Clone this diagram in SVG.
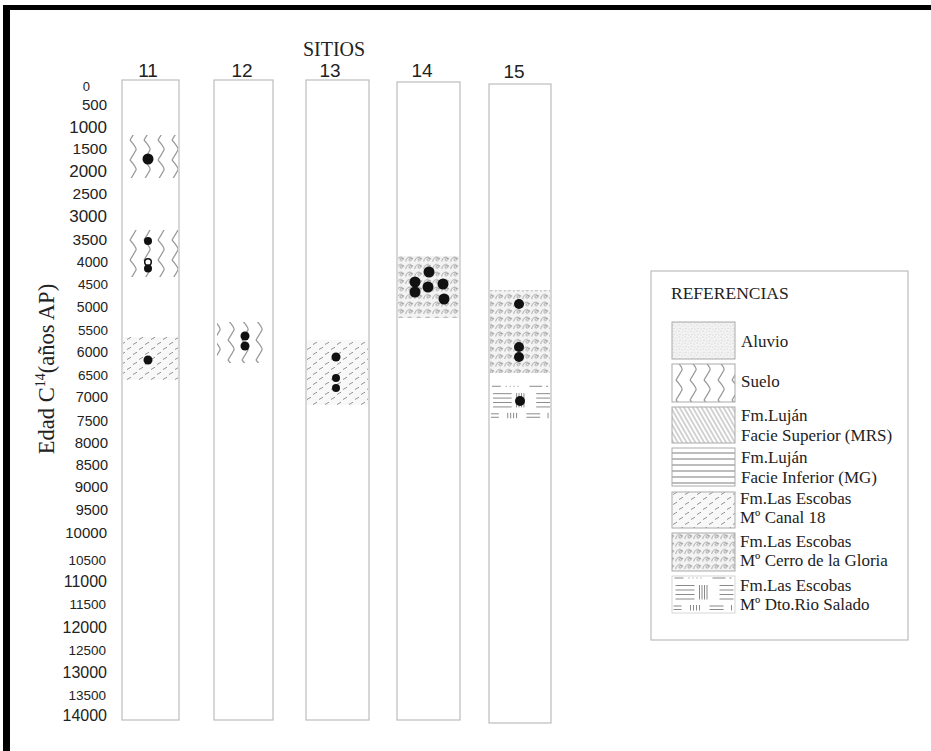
<svg xmlns="http://www.w3.org/2000/svg" width="931" height="751" viewBox="0 0 931 751">
<style>
.col{fill:#fff;stroke:#bdbdbd;stroke-width:1.2}
.ax{font-family:"Liberation Sans",Arial,sans-serif;fill:#222;text-anchor:end}
.hd{font-family:"Liberation Sans",Arial,sans-serif;font-size:19px;fill:#222;text-anchor:middle}
.serif{font-family:"Liberation Serif","Times New Roman",serif;fill:#222}
.lg{font-family:"Liberation Serif","Times New Roman",serif;font-size:17px;fill:#222}
.sw{stroke:#aaa;stroke-width:1}
.dot{fill:#111}
</style>
<defs>
<pattern id="pAluvio" patternUnits="userSpaceOnUse" width="6" height="6">
<rect width="6" height="6" fill="#f3f3f3"/>
<circle cx="1" cy="1" r="0.45" fill="#999"/><circle cx="4" cy="2" r="0.45" fill="#aaa"/><circle cx="2" cy="4.2" r="0.45" fill="#999"/><circle cx="5" cy="5" r="0.45" fill="#aaa"/>
</pattern>
<pattern id="pSuelo" patternUnits="userSpaceOnUse" width="14" height="20">
<path d="M4,0 Q11,8 10,10 Q9,12 4,20" fill="none" stroke="#999" stroke-width="1.3" stroke-linejoin="round"/>
</pattern>
<pattern id="pMRS" patternUnits="userSpaceOnUse" width="3.8" height="10" patternTransform="rotate(-30)">
<line x1="1" y1="0" x2="1" y2="10" stroke="#999" stroke-width="0.9"/>
</pattern>
<pattern id="pMG" patternUnits="userSpaceOnUse" width="10" height="6">
<line x1="0" y1="3" x2="10" y2="3" stroke="#999" stroke-width="1.3"/>
</pattern>
<pattern id="pCanal" patternUnits="userSpaceOnUse" width="12" height="10">
<rect width="12" height="10" fill="#f8f8f8"/>
<path d="M1,4.5 L5,2.2 M7,9.5 L11,7.2" stroke="#888" stroke-width="0.9"/>
</pattern>
<pattern id="pCerro" patternUnits="userSpaceOnUse" width="9" height="7.5">
<rect width="9" height="7.5" fill="#f3f3f3"/>
<path d="M0.8,6.5 C1,2.5 5,1 6.6,2.8 C8,4.6 5.6,6.5 4.2,5.3 C3,4.2 5,2.6 8.2,3.6" fill="none" stroke="#8a8a8a" stroke-width="0.75"/>
</pattern>
<symbol id="rioSalado" viewBox="0 0 62 40" overflow="visible">
<g stroke="#8a8a8a" stroke-width="1" fill="none">
<path d="M2,3 H11 M16,3 H17 M20,3 H21 M24,3 H25 M28,3 H29 M40,3 H53 M57,3 H59"/>
<path d="M3,10.5 H22 M3,15 H22 M3,19.5 H22 M3,24 H22"/>
<path d="M27,10 V24.5 M29.5,10 V24.5 M32,10 V24.5 M34.5,10 V24.5"/>
<path d="M47,10.5 H61 M47,15 H61 M47,19.5 H61 M47,24 H61"/>
<path d="M1,31 H9 M1,34.5 H9 M18,30 V35.5 M21,30 V35.5 M24,30 V35.5 M27,30 V35.5 M37,31 H51 M37,34.5 H51 M59,30 V35.5"/>
</g>
</symbol>
</defs>

<rect x="0" y="0" width="931" height="751" fill="#fff"/>
<g id="frame">
<rect x="3" y="5" width="928" height="5" fill="#000"/>
<rect x="3" y="5" width="7" height="746" fill="#000"/>
</g>

<g id="titles">
<text class="serif" x="334" y="56" font-size="20" text-anchor="middle">SITIOS</text>
<text class="hd" x="148" y="77">11</text>
<text class="hd" x="242" y="77">12</text>
<text class="hd" x="330" y="77">13</text>
<text class="hd" x="422" y="77">14</text>
<text class="hd" x="514" y="78">15</text>
<text class="serif" transform="translate(54,369) rotate(-90)" font-size="22.5" text-anchor="middle">Edad C<tspan font-size="14" dy="-9">14</tspan><tspan dy="9">(años AP)</tspan></text>
</g>

<g id="axis">
<text class="ax" x="90" y="91" font-size="13">0</text>
<text class="ax" x="107" y="110" font-size="15">500</text>
<text class="ax" x="107" y="133" font-size="17">1000</text>
<text class="ax" x="107" y="154" font-size="15.5">1500</text>
<text class="ax" x="107" y="177" font-size="17">2000</text>
<text class="ax" x="107" y="199" font-size="15.5">2500</text>
<text class="ax" x="107" y="222" font-size="17">3000</text>
<text class="ax" x="107" y="245" font-size="15.5">3500</text>
<text class="ax" x="108" y="267" font-size="14">4000</text>
<text class="ax" x="108" y="289" font-size="13.5">4500</text>
<text class="ax" x="108" y="312" font-size="14">5000</text>
<text class="ax" x="108" y="335" font-size="13.5">5500</text>
<text class="ax" x="108" y="357" font-size="14">6000</text>
<text class="ax" x="108" y="380" font-size="13.5">6500</text>
<text class="ax" x="108" y="402" font-size="14.5">7000</text>
<text class="ax" x="108" y="426" font-size="14">7500</text>
<text class="ax" x="108" y="448" font-size="15">8000</text>
<text class="ax" x="108" y="470" font-size="14.5">8500</text>
<text class="ax" x="108" y="492" font-size="15">9000</text>
<text class="ax" x="108" y="515" font-size="14.5">9500</text>
<text class="ax" x="107" y="538" font-size="15">10000</text>
<text class="ax" x="106" y="565" font-size="13.5">10500</text>
<text class="ax" x="107" y="587" font-size="16">11000</text>
<text class="ax" x="106" y="609" font-size="13.5">11500</text>
<text class="ax" x="107" y="633" font-size="16">12000</text>
<text class="ax" x="106" y="655" font-size="13.5">12500</text>
<text class="ax" x="107" y="678" font-size="16">13000</text>
<text class="ax" x="106" y="700" font-size="13.5">13500</text>
<text class="ax" x="107" y="721" font-size="16">14000</text>
</g>

<g id="site11">
<rect class="col" x="122" y="80" width="57" height="640"/>
<rect x="124" y="135" width="54" height="43" fill="url(#pSuelo)"/>
<rect x="124" y="230" width="54" height="47" fill="url(#pSuelo)"/>
<rect x="123" y="337" width="55" height="43" fill="url(#pCanal)"/>
<circle class="dot" cx="148" cy="159" r="5.5"/>
<circle class="dot" cx="148" cy="241" r="4"/>
<circle cx="148" cy="262" r="3.3" fill="#fff" stroke="#111" stroke-width="1.5"/>
<circle class="dot" cx="148" cy="268.5" r="4"/>
<circle class="dot" cx="148" cy="360" r="4.5"/>
</g>

<g id="site12">
<rect class="col" x="214" y="80" width="59" height="640"/>
<rect x="217" y="322" width="48" height="41" fill="url(#pSuelo)"/>
<circle class="dot" cx="245" cy="336" r="4.5"/>
<circle class="dot" cx="245" cy="346" r="4.5"/>
</g>

<g id="site13">
<rect class="col" x="306" y="80" width="63" height="640"/>
<rect x="307" y="340" width="61" height="65" fill="url(#pCanal)"/>
<circle class="dot" cx="336" cy="357" r="4.5"/>
<circle class="dot" cx="336" cy="378" r="4"/>
<circle class="dot" cx="336" cy="388" r="4"/>
</g>

<g id="site14">
<rect class="col" x="397" y="82" width="63" height="638"/>
<rect x="398" y="256" width="61" height="62" fill="url(#pCerro)"/>
<circle class="dot" cx="429" cy="272" r="5.5"/>
<circle class="dot" cx="415" cy="282" r="5.5"/>
<circle class="dot" cx="415" cy="292" r="5.5"/>
<circle class="dot" cx="428" cy="287" r="5.5"/>
<circle class="dot" cx="443" cy="284" r="5.5"/>
<circle class="dot" cx="444" cy="299" r="5.5"/>
</g>

<g id="site15">
<rect class="col" x="489" y="84" width="62" height="639"/>
<rect x="490" y="290" width="60" height="83" fill="url(#pCerro)"/>
<use href="#rioSalado" x="490" y="383" width="61" height="40"/>
<circle class="dot" cx="519" cy="304" r="5"/>
<circle class="dot" cx="519" cy="347" r="5"/>
<circle class="dot" cx="519" cy="357" r="5"/>
<circle class="dot" cx="520" cy="401" r="5"/>
</g>

<g id="legend">
<rect x="651" y="271" width="257" height="369" fill="#fff" stroke="#bdbdbd" stroke-width="1.2"/>
<text class="serif" x="671" y="299" font-size="17.5">REFERENCIAS</text>
<rect class="sw" x="672" y="322" width="63" height="37" fill="url(#pAluvio)"/>
<text class="lg" x="741" y="347">Aluvio</text>
<rect class="sw" x="672" y="364" width="63" height="38" fill="url(#pSuelo)"/>
<text class="lg" x="741" y="387">Suelo</text>
<rect class="sw" x="672" y="407" width="63" height="36" fill="url(#pMRS)"/>
<text class="lg" x="741" y="421">Fm.Luján</text>
<text class="lg" x="741" y="441">Facie Superior (MRS)</text>
<rect class="sw" x="672" y="448" width="63" height="38" fill="url(#pMG)"/>
<text class="lg" x="741" y="463">Fm.Luján</text>
<text class="lg" x="741" y="483">Facie Inferior (MG)</text>
<rect class="sw" x="672" y="492" width="63" height="36" fill="url(#pCanal)"/>
<text class="lg" x="740" y="504">Fm.Las Escobas</text>
<text class="lg" x="740" y="523">Mº Canal 18</text>
<rect class="sw" x="672" y="533" width="63" height="38" fill="url(#pCerro)"/>
<text class="lg" x="740" y="547">Fm.Las Escobas</text>
<text class="lg" x="740" y="566">Mº Cerro de la Gloria</text>
<rect x="672" y="576" width="63" height="37" fill="#fff" stroke="#ccc" stroke-width="0.8"/>
<use href="#rioSalado" x="672" y="575" width="63" height="40"/>
<text class="lg" x="740" y="591">Fm.Las Escobas</text>
<text class="lg" x="740" y="610">Mº Dto.Rio Salado</text>
</g>
</svg>
